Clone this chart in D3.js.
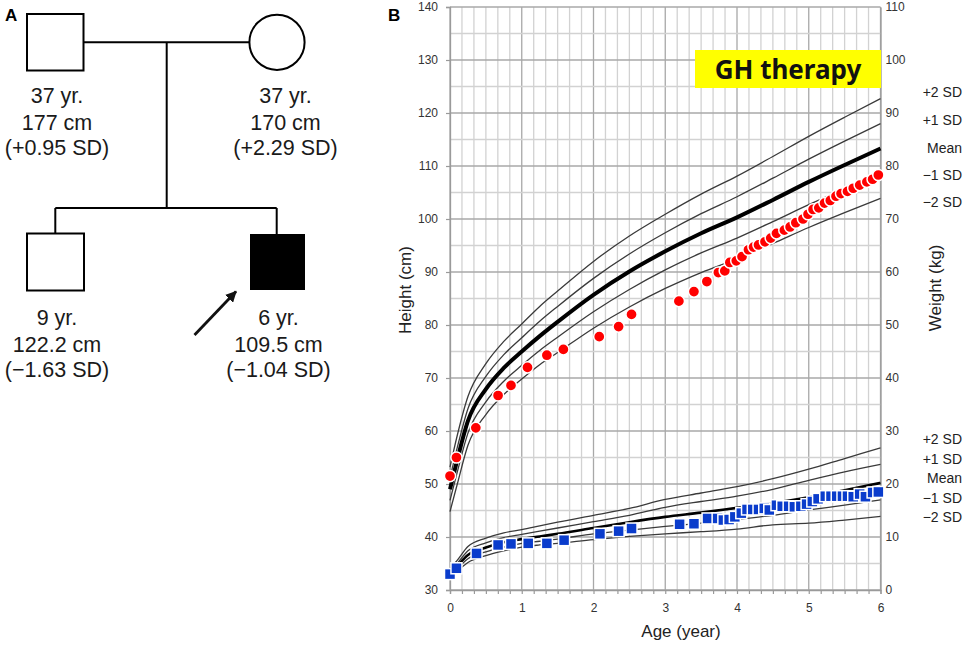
<!DOCTYPE html>
<html>
<head>
<meta charset="utf-8">
<script src="https://cdn.jsdelivr.net/npm/d3@7"></script>
<style>
  body { margin: 0; background: #fff; }
  svg { display: block; font-family: "Liberation Sans", Arial, sans-serif; }
</style>
</head>
<body>
<svg class="chartSvg" width="965" height="646"></svg>
<script>
// ---- data ----
// patient height (cm), red dots
var heightAge = [0, 0.09, 0.36, 0.67, 0.85, 1.08, 1.35, 1.58, 2.08, 2.35, 2.53, 3.19, 3.40, 3.58, 3.74,
    3.83, 3.90, 3.99, 4.07, 4.16, 4.23, 4.30, 4.39, 4.47, 4.55, 4.66, 4.74, 4.82, 4.92, 4.99,
    5.06, 5.14, 5.22, 5.30, 5.38, 5.45, 5.54, 5.62, 5.71, 5.81, 5.89, 5.97];
var heightCm = [51.5, 55.0, 60.6, 66.7, 68.6, 72.0, 74.3, 75.4, 77.8, 79.7, 82.0, 84.5, 86.3, 88.2, 89.9,
    90.2, 91.8, 92.1, 92.9, 94.2, 94.7, 95.1, 95.7, 96.4, 97.3, 97.9, 98.5, 99.3, 100.0, 100.9,
    101.8, 102.1, 103.0, 103.5, 104.3, 104.8, 105.2, 105.8, 106.4, 107.0, 107.5, 108.3];

// patient weight (kg), blue squares
var weightAge = [0, 0.09, 0.37, 0.67, 0.85, 1.09, 1.35, 1.59, 2.09, 2.35, 2.53, 3.20, 3.40, 3.59, 3.73,
    3.81, 3.89, 3.97, 4.06, 4.14, 4.22, 4.30, 4.38, 4.45, 4.55, 4.63, 4.72, 4.80, 4.89, 4.97,
    5.05, 5.13, 5.23, 5.31, 5.39, 5.47, 5.54, 5.62, 5.71, 5.79, 5.89, 5.97];
var weightKg = [3.0, 4.1, 6.9, 8.5, 8.7, 8.8, 8.8, 9.4, 10.6, 11.1, 11.6, 12.4, 12.5, 13.5, 13.5,
    13.2, 13.3, 13.8, 14.5, 15.2, 15.2, 15.2, 15.4, 15.1, 16.0, 15.8, 15.8, 15.7, 15.8, 16.2,
    16.7, 17.2, 17.7, 17.7, 17.7, 17.7, 17.7, 17.6, 18.1, 17.6, 18.4, 18.5];

// reference curves (boys)
var refAge = [0, 0.1, 0.25, 0.5, 0.75, 1, 1.25, 1.5, 2, 2.5, 3, 3.5, 4, 4.5, 5, 5.5, 6];
var hP2 = [53.2, 59.1, 66.5, 72.7, 76.9, 80.2, 83.5, 86.4, 92.0, 96.8, 100.9, 104.7, 108.1, 111.8, 115.6, 119.2, 122.7];
var hP1 = [51.1, 56.8, 64.2, 70.3, 74.4, 77.6, 80.7, 83.5, 88.8, 93.4, 97.4, 101.0, 104.2, 107.7, 111.3, 114.7, 118.0];
var hM  = [49.0, 54.5, 61.9, 67.9, 71.9, 75.0, 77.9, 80.6, 85.7, 90.1, 93.9, 97.3, 100.3, 103.6, 107.0, 110.2, 113.3];
var hM1 = [46.9, 52.2, 59.6, 65.5, 69.4, 72.4, 75.2, 77.7, 82.5, 86.7, 90.4, 93.6, 96.4, 99.5, 102.7, 105.7, 108.6];
var hM2 = [44.8, 49.9, 57.3, 63.1, 66.9, 69.8, 72.5, 74.8, 79.4, 83.4, 86.9, 89.9, 92.5, 95.4, 98.4, 101.2, 103.9];
var wP2 = [4.0, 5.6, 8.2, 9.8, 10.8, 11.4, 12.1, 12.8, 14.1, 15.4, 17.1, 18.3, 19.5, 21.0, 22.8, 24.8, 26.8];
var wP1 = [3.5, 5.0, 7.4, 8.9, 9.9, 10.5, 11.1, 11.7, 12.9, 14.1, 15.6, 16.7, 17.7, 19.0, 20.7, 22.3, 23.7];
var wM  = [3.0, 4.5, 6.6, 8.0, 9.0, 9.6, 10.1, 10.6, 11.7, 12.8, 13.8, 14.6, 15.5, 16.4, 17.5, 18.8, 20.2];
var wM1 = [2.6, 4.0, 5.9, 7.2, 8.1, 8.8, 9.2, 9.6, 10.6, 11.3, 12.0, 12.6, 13.3, 14.1, 15.1, 16.0, 17.0];
var wM2 = [2.1, 3.5, 5.2, 6.5, 7.4, 8.1, 8.5, 8.8, 9.5, 10.1, 10.6, 11.0, 11.5, 12.3, 12.6, 13.2, 13.9];

var sdLabels = ["+2 SD", "+1 SD", "Mean", "\u22121 SD", "\u22122 SD"];
var hTicks = [30, 40, 50, 60, 70, 80, 90, 100, 110, 120, 130, 140];
var wTicks = [0, 10, 20, 30, 40, 50, 60, 70, 80, 90, 100, 110];

// ---- layout ----
var plot = {left: 450, right: 880.5, top: 7, bottom: 590};

var svg = d3.select(".chartSvg");
svg.append("rect").attr("width", 965).attr("height", 646).attr("fill", "#fff");

var x = d3.scaleLinear().domain([0, 6]).range([plot.left, plot.right]);
var yH = d3.scaleLinear().domain([30, 140]).range([plot.bottom, plot.top]);
var yW = d3.scaleLinear().domain([0, 110]).range([plot.bottom, plot.top]);

// grid
var grid = svg.append("g");
var minorX = d3.range(0, 37).map(function(i) { return i / 6; });
var minorY = d3.range(30, 141, 5);
grid.selectAll(".vx").data(minorX).enter().append("line")
    .attr("x1", d => x(d)).attr("x2", d => x(d))
    .attr("y1", plot.top).attr("y2", plot.bottom)
    .attr("stroke", d => Number.isInteger(d) ? "#a8a8a8" : "#d2d2d2")
    .attr("stroke-width", 1.3);
grid.selectAll(".hy").data(minorY).enter().append("line")
    .attr("x1", plot.left).attr("x2", plot.right)
    .attr("y1", d => yH(d)).attr("y2", d => yH(d))
    .attr("stroke", d => d % 10 === 0 ? "#a8a8a8" : "#d2d2d2")
    .attr("stroke-width", 1.3);

// axes
var xAxis = svg.append("g")
    .attr("transform", "translate(0," + plot.bottom + ")")
    .call(d3.axisBottom(x).tickValues(minorX).tickSize(4).tickPadding(9)
        .tickFormat(d => Number.isInteger(d) ? d : ""));
var yAxisL = svg.append("g")
    .attr("transform", "translate(" + plot.left + ",0)")
    .call(d3.axisLeft(yH).tickValues(hTicks).tickSize(4).tickPadding(8));
var yAxisR = svg.append("g")
    .attr("transform", "translate(" + plot.right + ",0)")
    .call(d3.axisRight(yW).tickValues(wTicks).tickSize(0).tickPadding(5));
[xAxis, yAxisL, yAxisR].forEach(function(a) {
    a.select(".domain").attr("stroke", "#9a9a9a").attr("stroke-width", 1.3);
    a.selectAll(".tick line").attr("stroke", "#9a9a9a").attr("stroke-width", 1.2);
    a.selectAll("text").attr("fill", "#333").style("font-size", "12px")
        .style("font-family", "'Liberation Sans', Arial, sans-serif");
});

// reference curves
var hLine = d3.line().x(d => x(d[0])).y(d => yH(d[1])).curve(d3.curveMonotoneX);
var wLine = d3.line().x(d => x(d[0])).y(d => yW(d[1])).curve(d3.curveMonotoneX);
function zipRef(vals) { return refAge.map(function(a, i) { return [a, vals[i]]; }); }

var refs = svg.append("g");
[hP2, hP1, hM1, hM2].forEach(function(s) {
    refs.append("path").attr("d", hLine(zipRef(s)))
        .attr("fill", "none").attr("stroke", "#3a3a3a").attr("stroke-width", 1.3);
});
refs.append("path").attr("d", hLine(zipRef(hM)))
    .attr("fill", "none").attr("stroke", "#000").attr("stroke-width", 4);
[wP2, wP1, wM1, wM2].forEach(function(s) {
    refs.append("path").attr("d", wLine(zipRef(s)))
        .attr("fill", "none").attr("stroke", "#3a3a3a").attr("stroke-width", 1.3);
});
refs.append("path").attr("d", wLine(zipRef(wM)))
    .attr("fill", "none").attr("stroke", "#000").attr("stroke-width", 2.6);

// patient data
svg.append("g").selectAll("rect").data(weightAge).enter().append("rect")
    .attr("x", (d) => x(d) - 5.5)
    .attr("y", (d, i) => yW(weightKg[i]) - 5.5)
    .attr("width", 11).attr("height", 11)
    .attr("fill", "#0a3ccc").attr("stroke", "#fff").attr("stroke-width", 1.5);

svg.append("g").selectAll("circle").data(heightAge).enter().append("circle")
    .attr("cx", (d) => x(d))
    .attr("cy", (d, i) => yH(heightCm[i]))
    .attr("r", 5.6)
    .attr("fill", "#ff0000").attr("stroke", "#fff").attr("stroke-width", 1.5);

// GH therapy label
svg.append("rect").attr("x", 695).attr("y", 50).attr("width", 186).attr("height", 38).attr("fill", "#ffff00");
svg.append("text").attr("x", 788).attr("y", 78.5).attr("text-anchor", "middle")
    .style("font-family", "'Noto Sans', sans-serif").style("font-weight", 700).style("font-size", "26px")
    .attr("fill", "#111").text("GH therapy");

// SD labels
var sdUpperY = [92, 120, 148, 175, 202];
var sdLowerY = [439, 459, 478, 498, 517];
svg.append("g").selectAll("text").data(sdLabels).enter().append("text")
    .attr("x", 962).attr("y", (d, i) => sdUpperY[i]).attr("dy", "0.35em")
    .attr("text-anchor", "end").style("font-size", "14px").attr("fill", "#222").text(d => d);
svg.append("g").selectAll("text").data(sdLabels).enter().append("text")
    .attr("x", 962).attr("y", (d, i) => sdLowerY[i]).attr("dy", "0.35em")
    .attr("text-anchor", "end").style("font-size", "14px").attr("fill", "#222").text(d => d);

// axis titles
svg.append("text").attr("transform", "translate(411,290) rotate(-90)").attr("text-anchor", "middle")
    .style("font-size", "17px").attr("fill", "#222").text("Height (cm)");
svg.append("text").attr("transform", "translate(941,288) rotate(-90)").attr("text-anchor", "middle")
    .style("font-size", "17px").attr("fill", "#222").text("Weight (kg)");
svg.append("text").attr("x", 681).attr("y", 637).attr("text-anchor", "middle")
    .style("font-size", "17px").attr("fill", "#222").text("Age (year)");

// panel letters
svg.append("text").attr("x", 5).attr("y", 21).style("font-size", "17px").style("font-weight", 700).text("A");
svg.append("text").attr("x", 388).attr("y", 21).style("font-size", "17px").style("font-weight", 700).text("B");

// ---- pedigree (panel A) ----
var ped = svg.append("g").attr("stroke", "#000").attr("stroke-width", 2).attr("fill", "none");
ped.append("line").attr("x1", 83).attr("x2", 249).attr("y1", 42.3).attr("y2", 42.3);
ped.append("line").attr("x1", 166.7).attr("x2", 166.7).attr("y1", 42.3).attr("y2", 208);
ped.append("line").attr("x1", 55.3).attr("x2", 276.7).attr("y1", 208).attr("y2", 208);
ped.append("line").attr("x1", 55.3).attr("x2", 55.3).attr("y1", 208).attr("y2", 233.5);
ped.append("line").attr("x1", 276.7).attr("x2", 276.7).attr("y1", 208).attr("y2", 235);
ped.append("rect").attr("x", 27).attr("y", 14).attr("width", 56.5).attr("height", 56.5).attr("fill", "#fff");
ped.append("circle").attr("cx", 277).attr("cy", 42.3).attr("r", 27.6).attr("fill", "#fff");
ped.append("rect").attr("x", 27).attr("y", 233.5).attr("width", 57).attr("height", 57).attr("fill", "#fff");
ped.append("rect").attr("x", 251).attr("y", 235).attr("width", 53).attr("height", 54).attr("fill", "#000");

svg.append("defs").append("marker").attr("id", "ah")
    .attr("viewBox", "0 0 10 10").attr("refX", 9).attr("refY", 5)
    .attr("markerWidth", 4).attr("markerHeight", 4).attr("orient", "auto")
    .append("path").attr("d", "M0,0 L10,5 L0,10 z").attr("fill", "#111");
svg.append("line").attr("x1", 194.5).attr("y1", 335).attr("x2", 236).attr("y2", 291.5)
    .attr("stroke", "#111").attr("stroke-width", 2.8).attr("marker-end", "url(#ah)");

var pedText = [
    {x: 57, lines: ["37 yr.", "177 cm", "(+0.95 SD)"], y: [103.3, 130, 155]},
    {x: 285.5, lines: ["37 yr.", "170 cm", "(+2.29 SD)"], y: [103.3, 130, 155]},
    {x: 57, lines: ["9 yr.", "122.2 cm", "(\u22121.63 SD)"], y: [325, 351.5, 376.7]},
    {x: 278.5, lines: ["6 yr.", "109.5 cm", "(\u22121.04 SD)"], y: [325, 351.5, 376.7]}
];
pedText.forEach(function(p) {
    p.lines.forEach(function(t, i) {
        svg.append("text").attr("x", p.x).attr("y", p.y[i]).attr("text-anchor", "middle")
            .style("font-size", "21.5px").attr("fill", "#1a1a1a").text(t);
    });
});
</script>
</body>
</html>
